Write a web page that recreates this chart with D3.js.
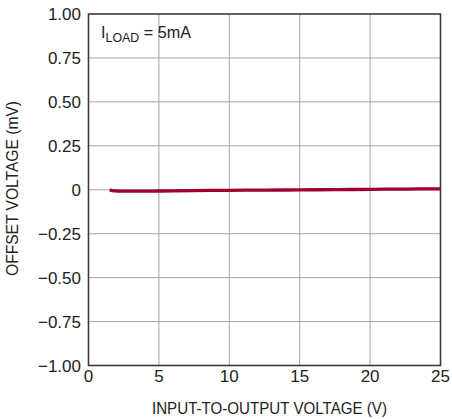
<!DOCTYPE html>
<html><head><meta charset="utf-8">
<script src="https://cdn.jsdelivr.net/npm/d3@7"></script>
<style>
body{margin:0;background:#fff;}
text{font-family:"Liberation Sans",Arial,sans-serif;fill:#222;}
</style></head><body>
<svg id="c" width="452" height="419"></svg>
<script>
const xTicks = [0,5,10,15,20,25];
const yTicks = [-1,-0.75,-0.5,-0.25,0,0.25,0.5,0.75,1];
const yTickLabels = ["\u22121.00","\u22120.75","\u22120.50","\u22120.25","0","0.25","0.50","0.75","1.00"];
const vin = [1.5,1.7,2,2.5,3,4,5,7.5,10,12.5,15,17.5,20,22.5,25];
const offset = [0,-0.005,-0.007,-0.008,-0.008,-0.008,-0.007,-0.005,-0.003,-0.002,-0.001,0.001,0.002,0.004,0.005];

const svg = d3.select("#c");
const L=88.5, R=440.5, T=14, B=365.5;
const x = d3.scaleLinear().domain([0,25]).range([L,R]);
const y = d3.scaleLinear().domain([-1,1]).range([B,T]);

// grid
svg.append("g").selectAll("line").data(xTicks.slice(1,-1)).join("line")
  .attr("x1",d=>x(d)).attr("x2",d=>x(d)).attr("y1",T).attr("y2",B)
  .attr("stroke","#a3a3a3").attr("stroke-width",1);
svg.append("g").selectAll("line").data(yTicks.slice(1,-1)).join("line")
  .attr("y1",d=>y(d)).attr("y2",d=>y(d)).attr("x1",L).attr("x2",R)
  .attr("stroke","#a3a3a3").attr("stroke-width",1);

// frame
svg.append("rect").attr("x",L).attr("y",T).attr("width",R-L).attr("height",B-T)
  .attr("fill","none").attr("stroke","#3a3a3a").attr("stroke-width",1.6);

// tick labels
svg.append("g").selectAll("text").data(xTicks).join("text")
  .attr("x",d=>x(d)).attr("y",382).attr("text-anchor","middle")
  .attr("font-size",17).text(d=>d);
svg.append("g").selectAll("text").data(yTicks).join("text")
  .attr("x",81).attr("y",d=>y(d)+6.3).attr("text-anchor","end")
  .attr("font-size",17).text((d,i)=>yTickLabels[i]);

// axis titles
svg.append("text").attr("x",269.5).attr("y",414).attr("text-anchor","middle")
  .attr("font-size",17).attr("textLength",235).attr("lengthAdjust","spacingAndGlyphs")
  .text("INPUT-TO-OUTPUT VOLTAGE (V)");
svg.append("text").attr("transform",`translate(17.5,188.5) rotate(-90)`)
  .attr("text-anchor","middle").attr("font-size",17).attr("textLength",175).attr("lengthAdjust","spacingAndGlyphs")
  .text("OFFSET VOLTAGE (mV)");

// annotation
const ann = svg.append("text").attr("x",101).attr("y",37.5).attr("font-size",17)
  .attr("textLength",90).attr("lengthAdjust","spacingAndGlyphs");
ann.append("tspan").text("I");
ann.append("tspan").attr("dy",4).attr("font-size",13).text("LOAD");
ann.append("tspan").attr("dy",-4).text(" = 5mA");

// curve
svg.append("path").datum(vin.map((v,i)=>[v,offset[i]]))
  .attr("d",d3.line().x(d=>x(d[0])).y(d=>y(d[1])).curve(d3.curveMonotoneX))
  .attr("fill","none").attr("stroke","#a0002f").attr("stroke-width",3.3);
</script></body></html>
